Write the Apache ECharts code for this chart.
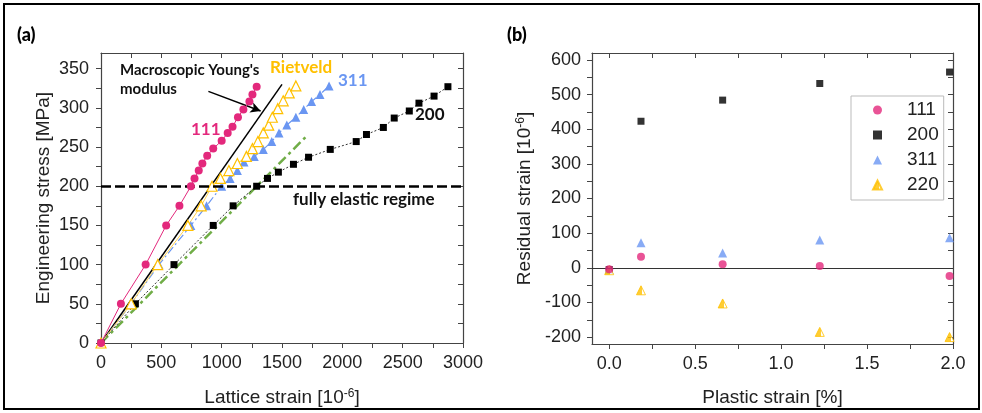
<!DOCTYPE html>
<html>
<head>
<meta charset="utf-8">
<script src="https://cdn.jsdelivr.net/npm/echarts@6/dist/echarts.min.js"></script>
<style>html,body{margin:0;padding:0;background:#fff}#c{width:982px;height:413px}</style>
</head>
<body>
<div id="c"></div>
<script>
// ---------- Panel (a): engineering stress vs lattice strain ----------
const strain111 = [0,165,370,540,650,745,775,810,840,880,930,1000,1050,1090,1135,1180,1230,1255,1290];
const stress111 = [0,50,100,150,175,200,210,220,229,239,248,258,268,276,288,298,308,317,327];
const strainRiet = [0,250,470,720,830,920,990,1060,1130,1205,1255,1300,1345,1390,1420,1465,1510,1560,1615];
const stressRiet = [0,50,100,150,175,200,210,220,229,238,248,257,268,278,288,299,309,319,328];
const strain311 = [0,250,480,745,875,1000,1070,1130,1185,1270,1345,1415,1475,1540,1615,1680,1745,1815,1890];
const stress311 = [0,50,100,150,175,200,210,220,231,238,247,257,268,278,288,298,308,317,328];
const strain200 = [0,285,605,930,1095,1290,1380,1470,1595,1720,1900,2115,2200,2340,2430,2555,2635,2760,2875];
const stress200 = [0,50,100,150,175,200,210,218,228,237,247,257,266,275,287,296,306,315,327];
const youngStrain = [0,1500];
const youngStress = [0,330];
const fit200Strain = [0,1710];
const fit200Stress = [0,265];
const elasticLimit = 200;
const xTicksA = [0,500,1000,1500,2000,2500,3000];
const yTicksA = [0,50,100,150,200,250,300,350];

// ---------- Panel (b): residual strain vs plastic strain ----------
const plastic = [0, 0.185, 0.66, 1.225, 1.98];
const res111 = [-4, 32, 10, 5, -24];
const res200 = [-5, 423, 484, 532, 565];
const res311 = [-5, 72, 43, 80, 87];
const res220 = [-7, -65, -103, -185, -200];
const xTicksB = [0, 0.5, 1.0, 1.5, 2.0];
const yTicksB = [-200,-100,0,100,200,300,400,500,600];

const zip = (a, b) => a.map((v, i) => [v, b[i]]);
const minorOf = (ticks, n) => { const out = []; for (let i = 0; i < ticks.length - 1; i++) { for (let k = 0; k < n; k++) out.push(ticks[i] + (ticks[i+1]-ticks[i]) * k / n); } out.push(ticks[ticks.length-1]); return out; };

const AX = '#444';
const FONT = '"Liberation Sans", Arial, sans-serif';
const BOLD = 'Lato, sans-serif';
const PINK = '#E3287C', BLUE = '#6A96F2', ORANGE = '#FFC000', GREEN = '#70AD47';
const halfFill = {type:'linear', x:0, y:0, x2:1, y2:0, colorStops:[{offset:0,color:ORANGE},{offset:0.6,color:ORANGE},{offset:0.6,color:'#fff'},{offset:1,color:'#fff'}]};

const supRich = {sup:{fontSize:12, fontFamily:FONT, color:'#222', verticalAlign:'top', lineHeight:12}};

function mainAxis(base) {
  return Object.assign({
    type:'value', splitLine:{show:false},
    axisLine:{show:true, onZero:false, lineStyle:{color:AX, width:1.2}},
    nameLocation:'middle',
    nameTextStyle:{fontSize:19, color:'#222', fontFamily:FONT, rich:supRich}
  }, base);
}
function mirrorAxis(base) {
  return Object.assign({
    type:'value', splitLine:{show:false},
    axisLine:{show:true, onZero:false, lineStyle:{color:AX, width:1.2}},
    axisLabel:{show:false}
  }, base);
}
const lbl = (extra) => Object.assign({fontSize:18, color:'#222', fontFamily:FONT, formatter:v=>String(v)}, extra);

const chart = echarts.init(document.getElementById('c'), null, {renderer:'canvas'});
chart.setOption({
  animation:false,
  backgroundColor:'#fff',
  grid:[
    {left:101, top:53, width:362, height:290},
    {left:592, top:53, width:361, height:291}
  ],
  xAxis:[
    mainAxis({gridIndex:0, min:0, max:3000, name:'Lattice strain [10{sup|-6}]', nameGap:45,
      axisTick:{show:true, length:5, lineStyle:{color:AX}, customValues:minorOf(xTicksA,2)},
      axisLabel:lbl({margin:11, customValues:xTicksA})}),
    mainAxis({gridIndex:1, min:-0.1, max:2.0, name:'Plastic strain [%]', nameGap:44,
      axisTick:{show:true, length:5, lineStyle:{color:AX}, customValues:minorOf(xTicksB,2)},
      axisLabel:lbl({margin:11, customValues:xTicksB, formatter:v=>Number(v).toFixed(1)})}),
    mirrorAxis({gridIndex:0, position:'top', min:0, max:3000, axisTick:{show:true, inside:true, length:5, lineStyle:{color:AX}, customValues:minorOf(xTicksA,2)}}),
    mirrorAxis({gridIndex:1, position:'top', min:-0.1, max:2.0, axisTick:{show:true, inside:true, length:5, lineStyle:{color:AX}, customValues:minorOf(xTicksB,2)}})
  ],
  yAxis:[
    mainAxis({gridIndex:0, min:0, max:370, name:'Engineering stress [MPa]', nameGap:48,
      axisTick:{show:true, length:5, lineStyle:{color:AX}, customValues:minorOf(yTicksA,2)},
      axisLabel:lbl({margin:12, customValues:yTicksA})}),
    mainAxis({gridIndex:1, min:-220, max:620, name:'Residual strain [10{sup|-6}]', nameGap:58,
      axisTick:{show:true, length:5, lineStyle:{color:AX}, customValues:minorOf(yTicksB,2)},
      axisLabel:lbl({margin:11, customValues:yTicksB})}),
    mirrorAxis({gridIndex:0, position:'right', min:0, max:370, axisTick:{show:true, inside:true, length:5, lineStyle:{color:AX}, customValues:minorOf(yTicksA,2)}}),
    mirrorAxis({gridIndex:1, position:'right', min:-220, max:620, axisTick:{show:true, inside:true, length:5, lineStyle:{color:AX}, customValues:minorOf(yTicksB,2)}})
  ],
  legend:{
    data:['111','200','311','220'], orient:'vertical', left:851, top:96,
    padding:[4,5,5,21], itemGap:5, itemWidth:9, itemHeight:9,
    borderColor:'#bbb', borderWidth:1, backgroundColor:'#fff',
    textStyle:{fontSize:19, color:'#222', fontFamily:FONT, lineHeight:20, padding:[0,0,0,20]}
  },
  series:[
    // panel a
    {name:'fit200', type:'line', xAxisIndex:0, yAxisIndex:0, data:zip(fit200Strain, fit200Stress), symbol:'none',
      lineStyle:{color:GREEN, width:2.5, type:[10,4,3,4]}, z:2},
    {name:'young', type:'line', xAxisIndex:0, yAxisIndex:0, data:zip(youngStrain, youngStress), symbol:'none',
      lineStyle:{color:'#000', width:1.5}, z:3,
      markLine:{silent:true, symbol:['none','arrow'], symbolSize:[8,10], label:{show:false},
        lineStyle:{color:'#000', width:1.5, type:'solid'},
        data:[[{coord:[890,321]},{coord:[1323,296]}]]}},
    {name:'a200', type:'line', xAxisIndex:0, yAxisIndex:0, data:zip(strain200, stress200), symbol:'rect', symbolSize:7,
      itemStyle:{color:'#000'}, lineStyle:{color:'#333', width:1, type:[2,2]}, z:4,
      markLine:{silent:true, symbol:'none', label:{show:false}, lineStyle:{color:'#000', width:2.5, type:[10,4]},
        data:[{yAxis:elasticLimit}]}},
    {name:'a311', type:'line', xAxisIndex:0, yAxisIndex:0, data:zip(strain311, stress311), symbol:'triangle', symbolSize:9,
      itemStyle:{color:BLUE}, lineStyle:{color:BLUE, width:1.2, type:[8,3,2,3]}, z:4},
    {name:'aRiet', type:'line', xAxisIndex:0, yAxisIndex:0, data:zip(strainRiet, stressRiet), symbol:'triangle', symbolSize:10,
      itemStyle:{color:'#fff', borderColor:ORANGE, borderWidth:1.2}, lineStyle:{color:'#FFD24D', width:1}, z:4},
    {name:'a111', type:'line', xAxisIndex:0, yAxisIndex:0, data:zip(strain111, stress111), symbol:'circle', symbolSize:8,
      itemStyle:{color:PINK}, lineStyle:{color:PINK, width:1}, z:5},
    // panel b
    {name:'200', type:'scatter', xAxisIndex:1, yAxisIndex:1, data:zip(plastic, res200), symbol:'rect', symbolSize:7,
      itemStyle:{color:'#000'}, z:3,
      markLine:{silent:true, symbol:'none', label:{show:false}, lineStyle:{color:'#333', width:1.2, type:'solid'}, data:[{yAxis:0}]}},
    {name:'311', type:'scatter', xAxisIndex:1, yAxisIndex:1, data:zip(plastic, res311), symbol:'triangle', symbolSize:9,
      itemStyle:{color:BLUE}, z:3},
    {name:'220', type:'scatter', xAxisIndex:1, yAxisIndex:1, data:zip(plastic, res220), symbol:'triangle', symbolSize:9,
      itemStyle:{color:halfFill, borderColor:ORANGE, borderWidth:1}, z:4},
    {name:'111', type:'scatter', xAxisIndex:1, yAxisIndex:1, data:zip(plastic, res111), symbol:'circle', symbolSize:8,
      itemStyle:{color:PINK}, z:5}
  ],
  graphic:[
    {type:'rect', shape:{x:4, y:4, width:975, height:405}, style:{fill:null, stroke:'#000', lineWidth:2}, silent:true},
    {type:'text', left:17, top:26, style:{text:'(a)', font:'900 18px '+BOLD, fill:'#000'}},
    {type:'text', left:507, top:26, style:{text:'(b)', font:'900 18px '+BOLD, fill:'#000'}},
    {type:'text', left:120, top:61, style:{text:"Macroscopic Young's\nmodulus", font:'bold 15px '+BOLD, fill:'#111', lineHeight:19}},
    {type:'text', left:270, top:59, style:{text:'Rietveld', font:'bold 17px '+BOLD, fill:ORANGE}},
    {type:'text', left:338, top:72, style:{text:'311', font:'bold 17px '+BOLD, fill:BLUE}},
    {type:'text', left:191, top:121, style:{text:'111', font:'bold 17px '+BOLD, fill:PINK}},
    {type:'text', left:415, top:106, style:{text:'200', font:'bold 17px '+BOLD, fill:'#111'}},
    {type:'text', left:293, top:191, style:{text:'fully elastic regime', font:'bold 17px '+BOLD, fill:'#111'}}
  ]
});
</script>
</body>
</html>
